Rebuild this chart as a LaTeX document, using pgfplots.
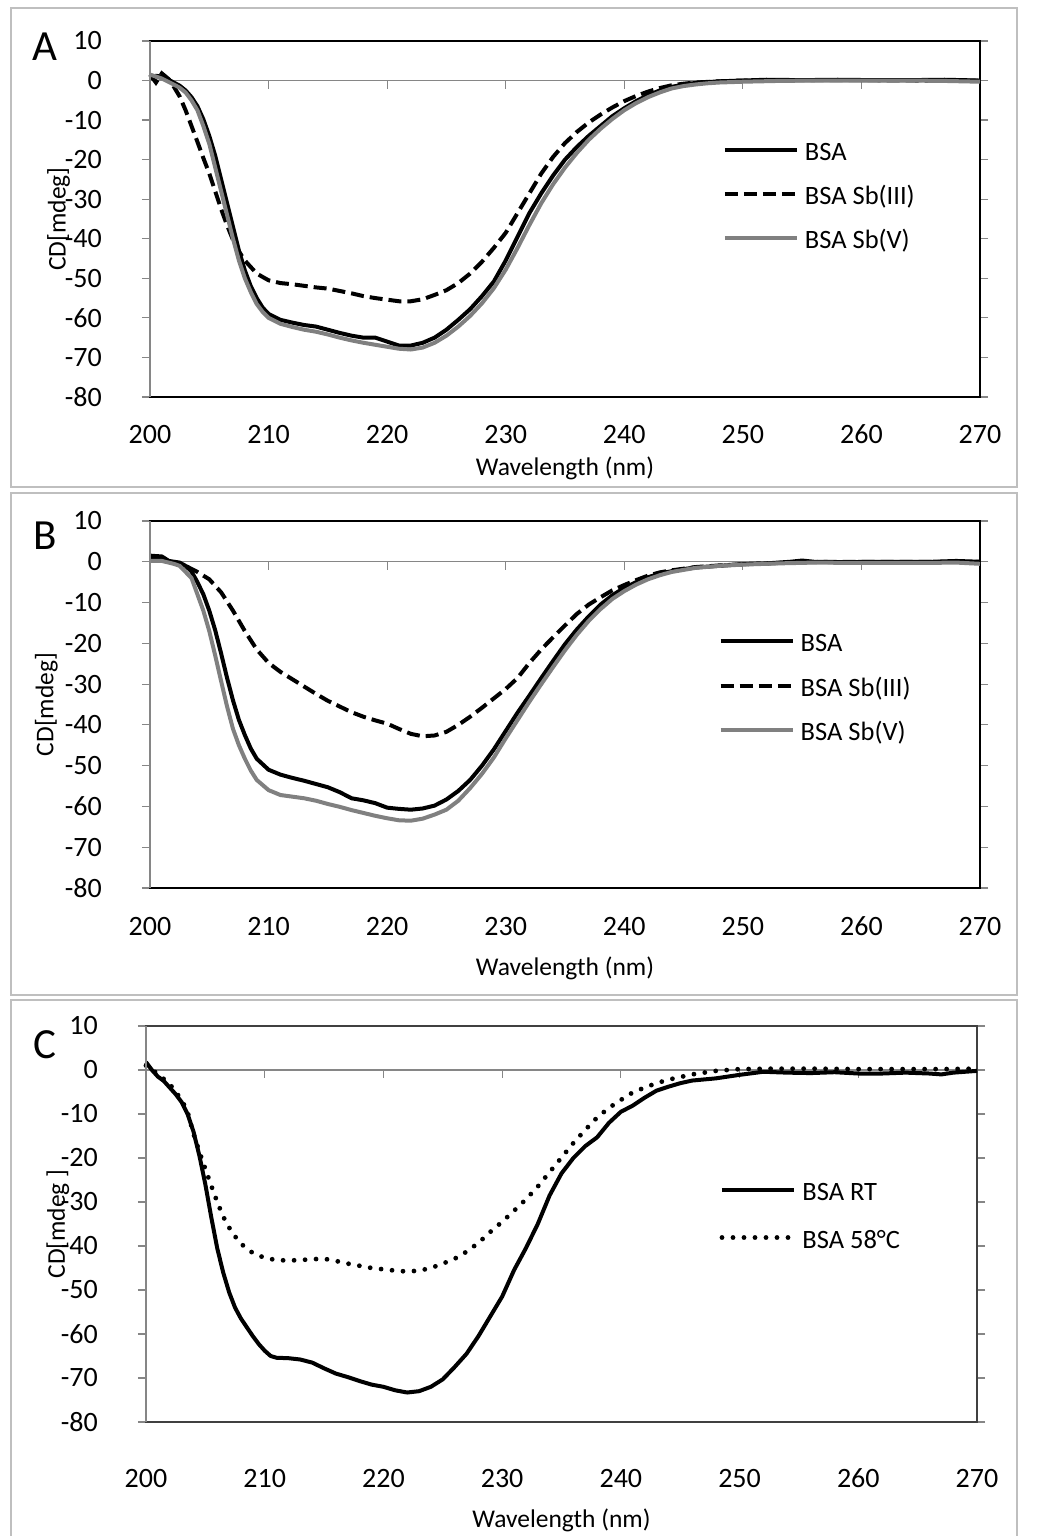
\documentclass[border=0pt]{standalone}
\usepackage{fontspec}
\setmainfont{Carlito}
\usepackage{pgfplots}
\pgfplotsset{compat=1.18}

\definecolor{framec}{RGB}{191,191,191}
\definecolor{axgray}{RGB}{134,134,134}
\definecolor{sbvgray}{RGB}{128,128,128}

\pgfplotsset{
 cdaxis/.style={
  scale only axis, clip=false,
  xmin=200,xmax=270,ymin=-80,ymax=10,
  xtick={200,210,...,270}, xticklabels={200,210,220,230,240,250,260,270},
  ytick={-80,-70,...,10}, yticklabels={-80,-70,-60,-50,-40,-30,-20,-10,0,10},
  x tick style={draw=none},
  y tick style={axgray, line width=1.2pt},
  tick align=outside, major tick length=8pt,
  axis line style={black,line width=1.3pt},
  ticklabel style={font=\fontsize{28}{28}\selectfont},
  yticklabel style={anchor=east, inner sep=0pt, xshift=-40pt},
  label style={font=\fontsize{25.5}{25.5}\selectfont},
  legend image code/.code={\draw[##1] (0pt,2pt) -- (72pt,2pt);},
  legend style={draw=none, fill=none, font=\fontsize{26.5}{26.5}\selectfont,
     inner sep=0pt, row sep=27pt, anchor=north west,
     nodes={inner sep=0pt, text height=17pt, text depth=0pt},
     /tikz/every odd column/.style={column sep=6pt}},
  legend cell align=left,
 },
 bsaline/.style={black, line width=4pt, line join=round},
 sbiiiline/.style={black, line width=4pt, dash pattern=on 13pt off 6pt},
 sbvline/.style={sbvgray, line width=4pt, line join=round},
 hotline/.style={black, line width=4.8pt, line cap=round, dash pattern=on 0pt off 11pt},
}

\newcommand{\zeroaxis}{%
  \draw[axgray, line width=1.2pt] (axis cs:200,0) -- (axis cs:270,0);
  \pgfplotsinvokeforeach{210,220,230,240,250,260}{\draw[axgray,line width=1.2pt] (axis cs:##1,0) -- ++(0pt,-8pt);}
}
\newcommand{\leftaxis}{\draw[axgray, line width=1.3pt] (rel axis cs:0,0) -- (rel axis cs:0,1);}

\begin{document}
\begin{tikzpicture}[x=1pt,y=1pt]
\useasboundingbox (0,0) rectangle (1037,1536);
% frames
\draw[framec, line width=1.6pt] (11,1049) rectangle (1017,1528);
\draw[framec, line width=1.6pt] (11,541) rectangle (1017,1043);
\draw[framec, line width=1.6pt] (11,-10) rectangle (1017,536);
\node[font=\fontsize{43}{43}\selectfont] at (45,1489) {A};
\node[font=\fontsize{43}{43}\selectfont] at (45,1000) {B};
\node[font=\fontsize{43}{43}\selectfont] at (45,491) {C};

% ---------------- A ----------------
\begin{axis}[cdaxis, at={(150pt,1139pt)}, anchor=south west, width=830pt, height=356pt,
  xticklabel style={anchor=base, yshift=-38.5pt},
  xlabel={Wavelength (nm)}, ylabel={CD[mdeg]},
  xlabel style={at={(axis description cs:0.5,0)}, anchor=center, yshift=-71pt},
  ylabel style={at={(axis description cs:-0.110,0.5)}, anchor=center},
  legend style={at={(axis description cs:0.690,0.712)}}]
\zeroaxis
\addplot[bsaline] table {
200 0.5
200.5 1.2
201 1.0
201.5 0.3
202 -0.5
202.5 -1.3
203 -2.5
203.5 -4.2
204 -6.5
204.5 -9.8
205 -14
205.5 -19
206 -25
206.5 -31
207 -37
207.5 -43
208 -48
208.5 -52
209 -55
209.5 -57.4
210 -59
211 -60.5
212 -61.2
213 -61.8
214 -62.2
215 -63
216 -63.8
217 -64.5
218 -65
219 -65
220 -66
221 -67
222 -67
223 -66.3
224 -65
225 -63
226 -60.5
227 -57.8
228 -54.5
229 -50.8
230 -45.5
231 -39.5
232 -33.5
233 -28.5
234 -24
235 -20
236 -16.8
237 -14
238 -11.5
239 -9
240 -7
241 -5.2
242 -3.7
243 -2.5
244 -1.6
245 -1.0
246 -0.6
247 -0.4
248 -0.2
250 0
252 0.2
255 0.1
258 0.2
261 0.1
264 0.1
267 0.2
270 0.0
};
\addlegendentry{BSA}
\addplot[sbiiiline] table {
200 1.5
200.5 -0.5
201 1.8
201.6 0.3
202 -1.5
202.5 -4
203 -7.5
203.5 -11.5
204 -15.5
204.5 -19.6
205 -23.5
205.5 -28
206 -32.5
206.5 -36.6
207 -40.3
207.5 -43.2
208 -45.5
209 -48.8
210 -50.5
211 -51.2
212 -51.5
213 -51.9
214 -52.3
215 -52.6
216 -53.2
217 -53.8
218 -54.5
219 -55
220 -55.4
221 -55.8
222 -55.8
223 -55.3
224 -54.2
225 -53
226 -51.2
227 -48.8
228 -45.8
229 -42.3
230 -38.5
231 -33.5
232 -28.5
233 -23.5
234 -19.3
235 -15.8
236 -13
237 -10.6
238 -8.6
239 -6.8
240 -5.2
241 -3.9
242 -2.8
243 -1.9
244 -1.2
245 -0.8
246 -0.5
248 -0.2
250 0
255 0.1
260 0.1
265 0
270 0
};
\addlegendentry{BSA Sb(III)}
\addplot[sbvline] table {
200 1.5
201 0.5
202 -1
202.5 -1.8
203 -3
203.5 -5
204 -7.5
204.5 -11.5
205 -16
205.5 -22
206 -28
206.5 -34
207 -40
207.5 -45.5
208 -50
208.5 -53.5
209 -56.5
209.5 -58.5
210 -60
211 -61.5
212 -62.3
213 -63
214 -63.5
215 -64.2
216 -65
217 -65.7
218 -66.3
219 -66.8
220 -67.3
221 -67.8
222 -68
223 -67.5
224 -66.3
225 -64.5
226 -62.2
227 -59.5
228 -56.3
229 -52.5
230 -47.8
231 -42.3
232 -36.5
233 -31
234 -26.2
235 -22
236 -18.3
237 -15
238 -12.2
239 -9.7
240 -7.5
241 -5.7
242 -4.2
243 -3
244 -2
245 -1.4
246 -1
247 -0.7
248 -0.5
250 -0.3
253 -0.1
256 0
260 0
264 0
267 -0.1
270 -0.3
};
\addlegendentry{BSA Sb(V)}
\leftaxis
\end{axis}

% ---------------- B ----------------
\begin{axis}[cdaxis, at={(150pt,648pt)}, anchor=south west, width=830pt, height=367pt,
  xticklabel style={anchor=base, yshift=-40pt},
  xlabel={Wavelength (nm)}, ylabel={CD[mdeg]},
  xlabel style={at={(axis description cs:0.5,0)}, anchor=center, yshift=-80pt},
  ylabel style={at={(axis description cs:-0.125,0.5)}, anchor=center},
  legend style={at={(axis description cs:0.685,0.6905)}, row sep=27.5pt}]
\zeroaxis
\addplot[bsaline] table {
200 1.5
201 1.3
201.6 0.2
202.5 -0.2
203 -1
203.5 -2.4
204 -5
204.5 -8
205 -12
205.5 -16.8
206 -22.5
206.5 -28.5
207 -34
207.5 -38.8
208 -42.5
208.5 -45.8
209 -48.3
210 -51
211 -52.2
212 -53
213 -53.7
214 -54.5
215 -55.3
216 -56.5
217 -58
218 -58.5
219 -59.2
220 -60.3
221 -60.6
222 -60.8
223 -60.5
224 -59.8
225 -58.3
226 -56.2
227 -53.5
228 -50
229 -46
230 -41.5
231 -37
232 -32.8
233 -28.5
234 -24.3
235 -20.2
236 -16.6
237 -13.4
238 -10.5
239 -8.2
240 -6.4
241 -5
242 -3.8
243 -2.9
244 -2.3
245 -1.8
246 -1.4
248 -1
250 -0.6
252 -0.4
254 0
255 0.3
256 0
258 -0.1
262 0
266 0
268 0.2
270 0
};
\addlegendentry{BSA}
\addplot[sbiiiline] table {
200 1.2
201 0.8
202 -0.3
203 -1
204 -2.5
205 -4.3
206 -7.5
207 -12
208 -17
209 -21.5
210 -24.8
211 -27
212 -28.8
213 -30.6
214 -32.4
215 -34.1
216 -35.5
217 -36.9
218 -38
219 -38.9
220 -39.7
221 -41
222 -42.2
223 -42.8
224 -42.6
225 -41.7
226 -40
227 -38
228 -35.8
229 -33.5
230 -31.2
231 -28.5
232 -24.8
233 -21.5
234 -18.5
235 -15.6
236 -12.8
237 -10.5
238 -8.7
239 -7
240 -5.7
241 -4.5
242 -3.4
243 -2.6
244 -2.1
245 -1.7
246 -1.3
248 -0.9
250 -0.6
253 -0.3
257 0
262 0
266 0
270 0
};
\addlegendentry{BSA Sb(III)}
\addplot[sbvline] table {
200 0.2
201 0.2
202 -0.5
202.5 -1
203 -2.5
203.5 -4
204 -8
204.5 -12
205 -17
205.5 -23
206 -29.3
206.5 -35.5
207 -41
207.5 -45
208 -48.3
208.5 -51.2
209 -53.5
210 -56
211 -57.2
212 -57.6
213 -58
214 -58.6
215 -59.4
216 -60.1
217 -60.9
218 -61.6
219 -62.3
220 -62.9
221 -63.4
222 -63.5
223 -63
224 -62
225 -60.8
226 -58.6
227 -55.5
228 -52
229 -48
230 -43.3
231 -38.8
232 -34.3
233 -30
234 -25.8
235 -21.7
236 -17.9
237 -14.5
238 -11.6
239 -9.1
240 -7.2
241 -5.6
242 -4.3
243 -3.3
244 -2.5
245 -2
246 -1.5
248 -1
250 -0.7
253 -0.4
256 -0.2
260 -0.3
265 -0.3
268 -0.2
270 -0.5
};
\addlegendentry{BSA Sb(V)}
\leftaxis
\end{axis}

% ---------------- C ----------------
\begin{axis}[cdaxis, at={(146pt,114pt)}, anchor=south west, width=831pt, height=396pt,
  axis line style={black!75, line width=1.3pt},
  xticklabel style={anchor=base, yshift=-57pt},
  xlabel={Wavelength (nm)}, ylabel={CD[mdeg ]},
  xlabel style={at={(axis description cs:0.5,0)}, anchor=center, yshift=-98pt},
  ylabel style={at={(axis description cs:-0.106,0.5)}, anchor=center},
  legend style={at={(axis description cs:0.690,0.604)}, row sep=31pt}]
\zeroaxis
\addplot[bsaline] table {
200 1.8
200.5 0
201 -1.5
201.5 -2.5
202 -4
202.5 -5.5
203 -7.3
203.5 -10
204 -14
204.5 -19.5
205 -26
205.5 -33.5
206 -40.5
206.5 -46
207 -50.5
207.5 -54
208 -56.5
208.5 -58.5
209 -60.5
209.5 -62.3
210 -63.8
210.5 -65
211 -65.4
212 -65.5
213 -65.8
214 -66.5
215 -67.8
216 -69
217 -69.8
218 -70.7
219 -71.5
220 -72
221 -72.8
222 -73.3
223 -73
224 -72
225 -70.3
226 -67.5
227 -64.5
228 -60.5
229 -56
230 -51.5
231 -45.5
232 -40.5
233 -35
234 -28.5
235 -23.5
236 -20
237 -17.3
238 -15.3
239 -12
240 -9.5
241 -8.1
242 -6.3
243 -4.7
244 -3.8
245 -3
246 -2.4
248 -1.9
250 -1.1
252 -0.4
254 -0.6
256 -0.7
258 -0.5
260 -0.8
262 -0.8
264 -0.6
266 -0.8
267 -1.0
268 -0.6
270 -0.2
};
\addlegendentry{BSA RT}
\addplot[hotline] table {
200 1
201 -0.9
202 -3.2
203 -6.8
203.5 -9.5
204 -14.5
204.5 -18.6
205 -22.5
205.5 -26.3
206 -30
206.5 -33.3
207 -35.8
207.5 -37.8
208 -39.5
209 -41.6
210 -42.7
211 -43.2
212 -43.3
213 -43.2
214 -43
215 -42.9
216 -43.4
217 -44
218 -44.5
219 -45
220 -45.3
221 -45.6
222 -45.8
223 -45.6
224 -45
225 -44
226 -42.9
227 -41.3
228 -39.3
229 -36.8
230 -34.5
231 -32
232 -29.4
233 -26.5
234 -23.2
235 -19.9
236 -16.6
237 -13.6
238 -10.8
239 -8.6
240 -6.8
241 -5.1
242 -4
243 -3
244 -2.2
245 -1.6
246 -1
247 -0.6
248 -0.2
250 0.2
253 0.3
256 0.3
260 0.2
264 0.2
267 0.2
270 0.3
};
\addlegendentry{BSA 58°C}
\leftaxis
\end{axis}
\end{tikzpicture}
\end{document}
